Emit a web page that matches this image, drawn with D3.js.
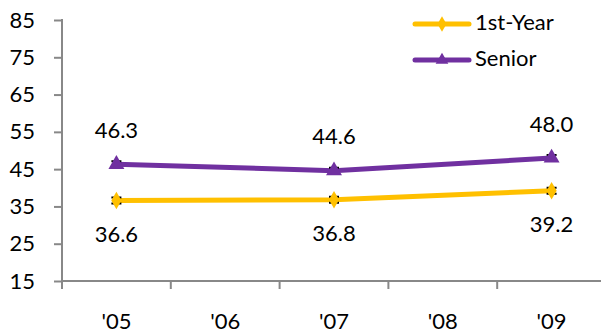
<!DOCTYPE html>
<html>
<head>
<meta charset="utf-8">
<script src="https://cdn.jsdelivr.net/npm/d3@7"></script>
<style>
  html, body { margin: 0; padding: 0; background: #fff; }
  svg { display: block; font-family: Lato, "Open Sans", sans-serif; }
</style>
</head>
<body>
<svg id="chart" width="601" height="335"></svg>
<script>
// Survey years and the two class-year series
const years = ["'05", "'06", "'07", "'08", "'09"];
const surveyYears = ["'05", "'07", "'09"];
const firstYear = [36.6, 36.8, 39.2];
const senior = [46.3, 44.6, 48.0];
const errFirstYear = [0.8, 0.8, 0.8];
const errSenior = [0.8, 0.8, 0.8];
const yTicks = [15, 25, 35, 45, 55, 65, 75, 85];

const series = [
  { name: "1st-Year", values: firstYear, err: errFirstYear, color: "#FFC000", marker: d3.symbolDiamond, labelPos: "below" },
  { name: "Senior", values: senior, err: errSenior, color: "#7030A0", marker: d3.symbolTriangle, labelPos: "above" }
];

const fontSize = 22;
const svg = d3.select("#chart");
const plotLeft = 62, plotRight = 606, plotTop = 20, plotBottom = 281;

const x = d3.scaleBand().domain(years).range([plotLeft, plotRight]);
const y = d3.scaleLinear().domain([15, 85]).range([plotBottom, plotTop]);
const cx = d => x(d) + x.bandwidth() / 2;

// Axes
const axisColor = "#888";
const yAxis = svg.append("g").attr("transform", `translate(${plotLeft},0)`)
  .call(d3.axisLeft(y).tickValues(yTicks).tickSize(8).tickPadding(19).tickFormat(d3.format("d")));
const xAxis = svg.append("g").attr("transform", `translate(0,${plotBottom})`)
  .call(d3.axisBottom(x).tickSize(8).tickPadding(24));
// band-boundary ticks for the category axis
xAxis.selectAll(".tick line").attr("transform", `translate(${-x.bandwidth() / 2},0)`);
[yAxis, xAxis].forEach(g => {
  g.selectAll("path.domain").attr("stroke", axisColor).attr("stroke-width", 2);
  g.selectAll(".tick line").attr("stroke", axisColor).attr("stroke-width", 2);
  g.selectAll("text").attr("fill", "#000").attr("font-size", fontSize).style("font-family", "Lato, 'Open Sans', sans-serif");
});
yAxis.select("path.domain").attr("d", `M0,${plotBottom}V${plotTop - 1}`);
yAxis.selectAll(".tick line").attr("x2", -8);
xAxis.select("path.domain").attr("d", `M${plotLeft},0H601`);

// Series lines, error bars, markers and value labels
const line = d3.line().x(d => cx(d.year)).y(d => y(d.v));
series.forEach(s => {
  const pts = surveyYears.map((yr, i) => ({ year: yr, v: s.values[i], e: s.err[i] }));
  const g = svg.append("g");
  g.append("path").datum(pts).attr("d", line)
    .attr("fill", "none").attr("stroke", s.color).attr("stroke-width", 5);
  pts.forEach(p => {
    const px = cx(p.year);
    g.append("path")
      .attr("d", `M${px - 5},${y(p.v + p.e)}H${px + 5}M${px},${y(p.v + p.e)}V${y(p.v - p.e)}M${px - 5},${y(p.v - p.e)}H${px + 5}`)
      .attr("stroke", "#000").attr("stroke-width", 2).attr("fill", "none");
    g.append("path").attr("d", d3.symbol().type(s.marker).size(s.marker === d3.symbolTriangle ? 110 : 90)())
      .attr("transform", `translate(${px},${y(p.v)})`).attr("fill", s.color);
    g.append("text")
      .attr("x", px).attr("y", s.labelPos === "above" ? y(p.v) - 32 : y(p.v) + 36)
      .attr("text-anchor", "middle").attr("font-size", fontSize).attr("fill", "#000")
      .attr("dominant-baseline", "middle")
      .text(d3.format(".1f")(p.v));
  });
});

// Legend
const legend = svg.append("g");
series.forEach((s, i) => {
  const ly = 24 + i * 36;
  legend.append("line").attr("x1", 415).attr("x2", 469).attr("y1", ly).attr("y2", ly)
    .attr("stroke", s.color).attr("stroke-width", 5).attr("stroke-linecap", "round");
  legend.append("path").attr("d", d3.symbol().type(s.marker).size(70)())
    .attr("transform", `translate(442,${ly})`).attr("fill", s.color);
  legend.append("text").attr("x", 475).attr("y", ly).attr("dominant-baseline", "middle")
    .attr("font-size", fontSize).attr("fill", "#000").text(s.name);
});
</script>
</body>
</html>
